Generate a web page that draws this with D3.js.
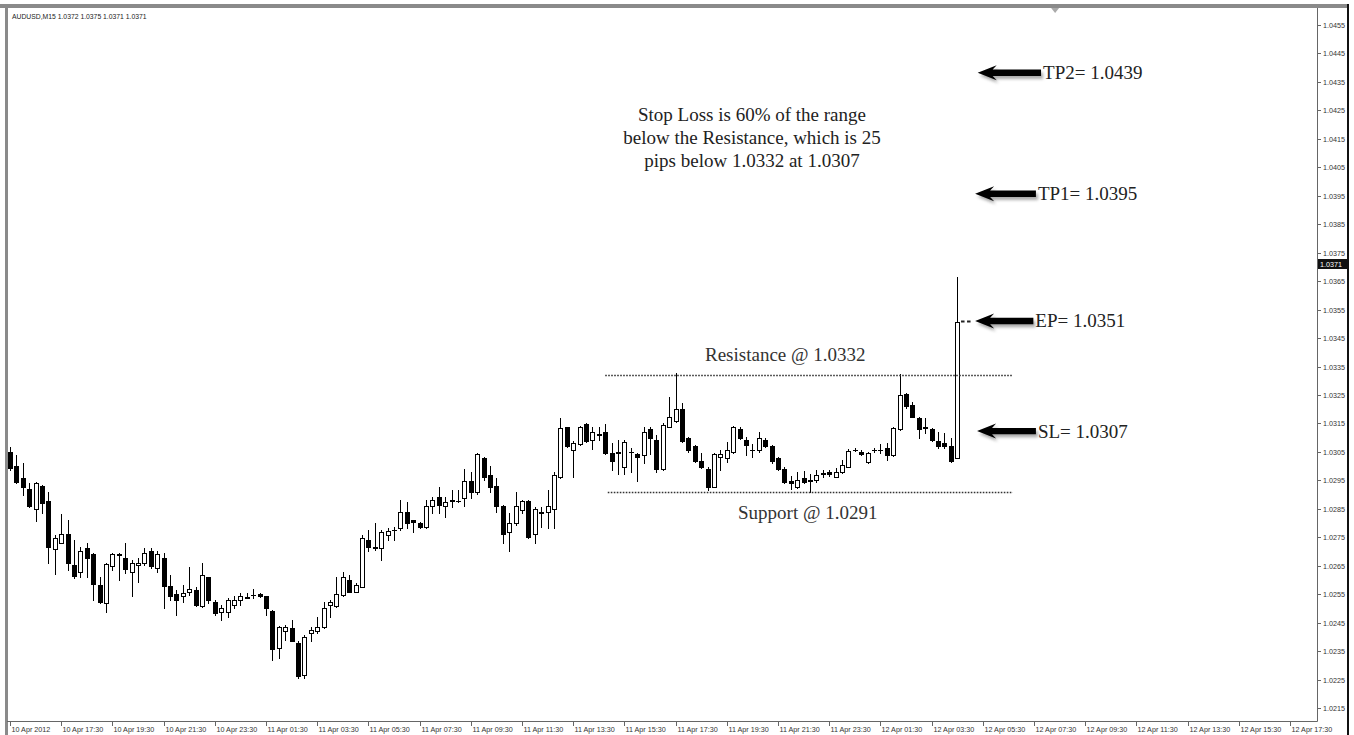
<!DOCTYPE html>
<html><head><meta charset="utf-8">
<script src="https://cdn.jsdelivr.net/npm/d3@7"></script>
<style>html,body{margin:0;padding:0;background:#fff}svg{display:block}</style>
</head><body><svg id="chart" width="1354" height="735"></svg>
<script>
// ---- data (AUDUSD M15) ----
const openP=[1.03051,1.03000,1.02959,1.02920,1.02848,1.02930,1.02879,1.02709,1.02731,1.02761,
1.02653,1.02629,1.02711,1.02691,1.02583,1.02520,1.02649,1.02688,1.02678,1.02629,
1.02653,1.02659,1.02700,1.02641,1.02678,1.02579,1.02551,1.02542,1.02559,1.02563,
1.02509,1.02610,1.02524,1.02489,1.02489,1.02512,1.02530,1.02537,1.02546,1.02550,
1.02542,1.02491,1.02360,1.02421,1.02432,1.02380,1.02267,1.02413,1.02419,1.02436,
1.02512,1.02509,1.02548,1.02600,1.02559,1.02576,1.02741,1.02712,1.02711,1.02758,
1.02774,1.02782,1.02840,1.02809,1.02801,1.02785,1.02860,1.02890,1.02860,1.02879,
1.02876,1.02887,1.02949,1.02910,1.03027,1.02969,1.02930,1.02860,1.02770,1.02799,
1.02846,1.02879,1.02762,1.02839,1.02840,1.02848,1.02961,1.03136,1.03056,1.03078,
1.03148,1.03092,1.03109,1.03121,1.03047,1.03046,1.02998,1.03049,1.03042,1.03039,
1.03129,1.03092,1.02989,1.03138,1.03159,1.03199,1.03098,1.03071,1.03019,1.02989,
1.02928,1.03033,1.03027,1.03050,1.03129,1.03092,1.03055,1.03056,1.03092,1.03071,
1.03027,1.02989,1.02949,1.02928,1.02957,1.02949,1.02951,1.02973,1.02980,1.02963,
1.02980,1.02998,1.03055,1.03050,1.03015,1.03055,1.03055,1.03062,1.03039,1.03129,
1.03253,1.03214,1.03168,1.03134,1.03129,1.03089,1.03082,1.03071,1.03027];
const highP=[1.03068,1.03039,1.03011,1.02940,1.02945,1.02934,1.02910,1.02758,1.02832,1.02811,
1.02741,1.02717,1.02729,1.02694,1.02611,1.02659,1.02696,1.02694,1.02729,1.02670,
1.02676,1.02711,1.02711,1.02700,1.02694,1.02618,1.02565,1.02583,1.02647,1.02576,
1.02659,1.02612,1.02528,1.02512,1.02536,1.02542,1.02553,1.02553,1.02568,1.02553,
1.02544,1.02495,1.02439,1.02442,1.02460,1.02384,1.02407,1.02436,1.02469,1.02524,
1.02528,1.02610,1.02629,1.02618,1.02589,1.02758,1.02776,1.02799,1.02776,1.02782,
1.02787,1.02881,1.02875,1.02811,1.02805,1.02881,1.02890,1.02928,1.02892,1.02916,
1.02916,1.02989,1.02980,1.03045,1.03031,1.03000,1.02957,1.02864,1.02834,1.02910,
1.02881,1.02881,1.02855,1.02857,1.02916,1.02980,1.03169,1.03139,1.03089,1.03141,
1.03150,1.03138,1.03138,1.03148,1.03080,1.03092,1.03092,1.03062,1.03045,1.03138,
1.03138,1.03109,1.03150,1.03244,1.03326,1.03220,1.03103,1.03074,1.03045,1.02998,
1.03045,1.03056,1.03086,1.03141,1.03136,1.03103,1.03078,1.03121,1.03098,1.03074,
1.03033,1.02998,1.02965,1.02980,1.02984,1.02974,1.02986,1.02986,1.02986,1.02992,
1.03021,1.03059,1.03062,1.03056,1.03050,1.03062,1.03078,1.03080,1.03136,1.03323,
1.03256,1.03226,1.03173,1.03169,1.03133,1.03121,1.03115,1.03098,1.03665];
const lowP=[1.02986,1.02941,1.02899,1.02857,1.02808,1.02834,1.02658,1.02621,1.02729,1.02635,
1.02606,1.02611,1.02611,1.02528,1.02519,1.02489,1.02635,1.02600,1.02624,1.02542,
1.02592,1.02653,1.02641,1.02629,1.02501,1.02530,1.02477,1.02524,1.02548,1.02509,
1.02506,1.02518,1.02477,1.02460,1.02471,1.02501,1.02512,1.02535,1.02536,1.02540,
1.02477,1.02319,1.02325,1.02390,1.02384,1.02255,1.02255,1.02384,1.02413,1.02431,
1.02471,1.02506,1.02542,1.02556,1.02558,1.02574,1.02700,1.02705,1.02670,1.02741,
1.02741,1.02776,1.02782,1.02770,1.02782,1.02782,1.02834,1.02834,1.02822,1.02857,
1.02875,1.02860,1.02887,1.02902,1.02951,1.02910,1.02840,1.02729,1.02700,1.02793,
1.02834,1.02747,1.02729,1.02787,1.02782,1.02782,1.02958,1.03067,1.02961,1.03074,
1.03086,1.03059,1.03092,1.03042,1.02986,1.02972,1.02972,1.02980,1.02949,1.03010,
1.03042,1.02980,1.02986,1.03136,1.03156,1.03086,1.03050,1.03015,1.02992,1.02916,
1.02926,1.02986,1.03015,1.03047,1.03094,1.03039,1.03031,1.03050,1.03068,1.03012,
1.02986,1.02940,1.02919,1.02922,1.02940,1.02910,1.02945,1.02963,1.02965,1.02961,
1.02977,1.02996,1.03053,1.03039,1.03010,1.03050,1.03045,1.03021,1.03035,1.03127,
1.03203,1.03171,1.03098,1.03116,1.03089,1.03062,1.03062,1.03015,1.03027];
const closeP=[1.02992,1.02945,1.02928,1.02860,1.02942,1.02870,1.02717,1.02748,1.02762,1.02659,
1.02614,1.02700,1.02676,1.02586,1.02524,1.02656,1.02691,1.02691,1.02638,1.02659,
1.02660,1.02694,1.02649,1.02691,1.02579,1.02542,1.02528,1.02553,1.02568,1.02512,
1.02618,1.02528,1.02485,1.02501,1.02528,1.02528,1.02542,1.02539,1.02548,1.02544,
1.02501,1.02357,1.02436,1.02436,1.02387,1.02263,1.02401,1.02425,1.02434,1.02501,
1.02524,1.02551,1.02610,1.02559,1.02583,1.02746,1.02717,1.02716,1.02770,1.02773,
1.02776,1.02840,1.02801,1.02804,1.02787,1.02860,1.02881,1.02864,1.02875,1.02881,
1.02877,1.02949,1.02910,1.03041,1.02961,1.02928,1.02860,1.02762,1.02799,1.02860,
1.02879,1.02750,1.02848,1.02834,1.02860,1.02969,1.03133,1.03071,1.03082,1.03136,
1.03089,1.03121,1.03112,1.03047,1.03019,1.03048,1.03086,1.03051,1.03033,1.03121,
1.03098,1.02989,1.03144,1.03173,1.03199,1.03089,1.03056,1.03019,1.02998,1.02928,
1.03042,1.03042,1.03056,1.03138,1.03098,1.03074,1.03056,1.03098,1.03071,1.03019,
1.02989,1.02945,1.02940,1.02951,1.02945,1.02951,1.02969,1.02976,1.02972,1.02980,
1.03004,1.03054,1.03056,1.03042,1.03045,1.03056,1.03056,1.03039,1.03133,1.03250,
1.03211,1.03173,1.03129,1.03137,1.03092,1.03071,1.03071,1.03019,1.03507];

const priceTicks=[1.0455,1.0445,1.0435,1.0425,1.0415,1.0405,1.0395,1.0385,1.0375,1.0365,1.0355,
1.0345,1.0335,1.0325,1.0315,1.0305,1.0295,1.0285,1.0275,1.0265,1.0255,1.0245,1.0235,1.0225,1.0215];
const timeLabels=["10 Apr 2012","10 Apr 17:30","10 Apr 19:30","10 Apr 21:30","10 Apr 23:30",
"11 Apr 01:30","11 Apr 03:30","11 Apr 05:30","11 Apr 07:30","11 Apr 09:30","11 Apr 11:30",
"11 Apr 13:30","11 Apr 15:30","11 Apr 17:30","11 Apr 19:30","11 Apr 21:30","11 Apr 23:30",
"12 Apr 01:30","12 Apr 03:30","12 Apr 05:30","12 Apr 07:30","12 Apr 09:30","12 Apr 11:30",
"12 Apr 13:30","12 Apr 15:30","12 Apr 17:30"];
const barsPerLabel=8;
const currentPrice=1.0371;
const headerText="AUDUSD,M15  1.0372 1.0375 1.0371 1.0371";

const levelNames=["Resistance @ 1.0332","Support @ 1.0291"];
const levelPrices=[1.0332,1.0291];
const levelStart=[93.0,93.4];
const levelEnd=[156.7,156.7];

const arrowLabels=["TP2= 1.0439","TP1= 1.0395","EP= 1.0351","SL= 1.0307"];
const arrowPrices=[1.04382,1.03957,1.0351,1.03123];
const arrowTip=[151.2,150.8,150.8,151.1];
const arrowTail=[161.1,160.3,159.9,160.3];

const noteLines=["Stop Loss is 60% of the range","below the Resistance, which is 25","pips below 1.0332 at 1.0307"];

// ---- drawing ----
const svg=d3.select("#chart");
const plotL=7, plotT=8, axisX=1317, axisY=721;
const x=d3.scaleLinear().domain([0,204]).range([10,10+204*6.4]);
const y=d3.scaleLinear().domain([1.0455,1.0215]).range([25,708]);

const defs=svg.append("defs");
const f=defs.append("filter").attr("id","sh").attr("x","-20%").attr("y","-50%").attr("width","140%").attr("height","200%");
f.append("feGaussianBlur").attr("stdDeviation",1.6);
const f2=defs.append("filter").attr("id","soft");
f2.append("feGaussianBlur").attr("stdDeviation",0.45);

const axisFont="Liberation Sans, Arial, sans-serif";

// frame
svg.append("rect").attr("x",0).attr("y",4).attr("width",1349).attr("height",4).attr("fill","#8a8a8a");
svg.append("rect").attr("x",5).attr("y",4).attr("width",3).attr("height",731).attr("fill","#8a8a8a");
svg.append("rect").attr("x",1347).attr("y",4).attr("width",2).attr("height",731).attr("fill","#111");
svg.append("line").attr("x1",axisX+0.5).attr("x2",axisX+0.5).attr("y1",plotT).attr("y2",axisY+0.5).attr("stroke","#666");
svg.append("line").attr("x1",plotL).attr("x2",axisX+0.5).attr("y1",axisY+0.5).attr("y2",axisY+0.5).attr("stroke","#666");

// shift marker
svg.append("path").attr("d",`M${x(163.3)-4},8 L${x(163.3)+4},8 L${x(163.3)},13 Z`).attr("fill","#aaa");

// header
svg.append("text").attr("x",12).attr("y",19).attr("font-family",axisFont)
  .attr("font-size",6.8).attr("fill","#222").text(headerText);

// price axis
const pg=svg.append("g");
priceTicks.forEach(p=>{
  const yy=Math.round(y(p))+0.5;
  pg.append("line").attr("x1",axisX).attr("x2",axisX+4).attr("y1",yy).attr("y2",yy).attr("stroke","#666");
  pg.append("text").attr("x",axisX+6).attr("y",yy).attr("dy","0.35em")
    .attr("font-family",axisFont).attr("font-size",7.2).attr("fill","#333").text(p.toFixed(4));
});
const cy=Math.round(y(currentPrice));
pg.append("rect").attr("x",axisX+1).attr("y",cy-5).attr("width",29).attr("height",10).attr("fill","#111");
pg.append("text").attr("x",axisX+3).attr("y",cy).attr("dy","0.35em")
  .attr("font-family",axisFont).attr("font-size",7.2).attr("fill","#fff").text(currentPrice.toFixed(4));

// time axis
const tg=svg.append("g");
timeLabels.forEach((t,k)=>{
  const xx=Math.round(x(k*barsPerLabel))+0.5;
  tg.append("line").attr("x1",xx).attr("x2",xx).attr("y1",axisY).attr("y2",axisY+5).attr("stroke","#666");
  tg.append("text").attr("x",xx+1).attr("y",732).attr("font-family",axisFont)
    .attr("font-size",7.2).attr("fill","#333").text(t);
});

// candles
const cg=svg.append("g");
openP.forEach((o,i)=>{
  const c=closeP[i], h=highP[i], l=lowP[i];
  const cx=Math.round(x(i));
  cg.append("line").attr("x1",cx+0.5).attr("x2",cx+0.5).attr("y1",Math.round(y(h))).attr("y2",Math.round(y(l))+1)
    .attr("stroke","#000").attr("stroke-width",1);
  const yTop=Math.round(y(Math.max(o,c))), yBot=Math.round(y(Math.min(o,c)));
  const up=c>=o;
  if(yBot-yTop<1){
    cg.append("line").attr("x1",cx-2).attr("x2",cx+3).attr("y1",yTop+0.5).attr("y2",yTop+0.5).attr("stroke","#000");
  } else {
    cg.append("rect").attr("x",cx-1.5).attr("y",yTop+0.5).attr("width",4).attr("height",yBot-yTop)
      .attr("fill",up?"#fff":"#000").attr("stroke","#000").attr("stroke-width",1);
  }
});

// support / resistance dotted lines and labels
levelPrices.forEach((p,i)=>{
  const yy=Math.round(y(p))+0.5;
  svg.append("line").attr("x1",x(levelStart[i])).attr("x2",x(levelEnd[i])).attr("y1",yy).attr("y2",yy)
    .attr("stroke","#333").attr("stroke-width",1.6).attr("stroke-dasharray","1.6,1.4");
});
const serif="Liberation Serif, Times New Roman, serif";
svg.append("text").attr("x",705).attr("y",y(levelPrices[0])-14).attr("font-family",serif).attr("font-size",19)
  .attr("fill","#333").text(levelNames[0]);
svg.append("text").attr("x",738).attr("y",y(levelPrices[1])+27).attr("font-family",serif).attr("font-size",19)
  .attr("fill","#333").text(levelNames[1]);

// note text
noteLines.forEach((t,i)=>{
  svg.append("text").attr("x",752).attr("y",121+i*23).attr("text-anchor","middle").attr("font-family",serif)
    .attr("font-size",19).attr("fill","#222").text(t);
});

// EP dashed connector
svg.append("line").attr("x1",x(148.6)).attr("x2",x(150.4)).attr("y1",Math.round(y(arrowPrices[2]))+0.5).attr("y2",Math.round(y(arrowPrices[2]))+0.5)
  .attr("stroke","#222").attr("stroke-width",1.8).attr("stroke-dasharray","3.5,2.5");

// arrows
arrowLabels.forEach((t,i)=>{
  const yy=y(arrowPrices[i]), tip=x(arrowTip[i]), tail=x(arrowTail[i]);
  const d=`M${tip},${yy} L${tip+19},${yy-7.5} L${tip+15},${yy-3.2} L${tail},${yy-3.2} L${tail},${yy+3.2} L${tip+15},${yy+3.2} L${tip+19},${yy+7.5} Z`;
  svg.append("path").attr("d",d).attr("fill","#666").attr("opacity",0.55).attr("transform","translate(2,3)").attr("filter","url(#sh)");
  svg.append("path").attr("d",d).attr("fill","#000").attr("filter","url(#soft)");
  svg.append("text").attr("x",tail+2).attr("y",yy+6.5).attr("font-family",serif).attr("font-size",19)
    .attr("fill","#222").text(t);
});
</script></body></html>
